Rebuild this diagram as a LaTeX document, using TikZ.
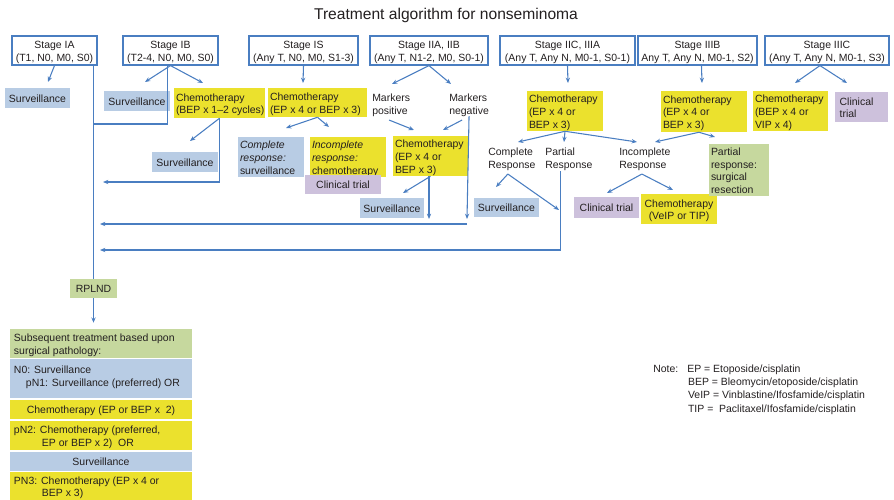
\documentclass[tikz,border=0pt]{standalone}
\usepackage{fontspec}
\setmainfont{Liberation Sans}
\usetikzlibrary{arrows.meta,calc}

\definecolor{lineblue}{RGB}{74,126,193}
\definecolor{boxblue}{RGB}{184,204,228}
\definecolor{boxyellow}{RGB}{235,225,45}
\definecolor{boxgreen}{RGB}{198,216,158}
\definecolor{boxpurple}{RGB}{205,193,220}
\definecolor{ink}{RGB}{35,31,32}

% box from corner (#3,#4) to corner (#5,#6), in pixel units;
% #7 is l or c (alignment of the lines), #8 the lines
\newcommand\cbox[8]{%
  \pgfmathsetmacro\cbw{(#5-#3-4)*0.75}%
  \pgfmathsetmacro\cbh{(#6-#4)*0.75}%
  \node[#2, minimum height=\cbh pt] (#1) at ({(#3+#5)/2},{(#4+#6)/2})
    {\raisebox{-1.4pt}[\height][\depth]{\makebox[\cbw pt][#7]{\begin{tabular}{@{}#7@{}}#8\end{tabular}}}};}

\begin{document}
\begin{tikzpicture}[x=0.75pt,y=-0.75pt,
  every node/.style={font=\fontsize{7.85}{9.6}\selectfont, text=ink},
  ln/.style={draw=lineblue, line width=0.8pt},
  arr/.style={ln, -{Stealth[length=4pt,width=3.2pt]}},
  stagebox/.style={draw=lineblue, line width=0.9pt, fill=white,
    inner xsep=1.5pt, inner ysep=0pt},
  cb/.style={inner xsep=1.5pt, inner ysep=0pt},
  bluebox/.style={cb, fill=boxblue},
  yellowbox/.style={cb, fill=boxyellow},
  greenbox/.style={cb, fill=boxgreen},
  purplebox/.style={cb, fill=boxpurple},
  plain/.style={inner sep=0.75pt, align=left, anchor=west}
]
\useasboundingbox (0,0) rectangle (894,500);

\node[font=\fontsize{11.7}{13}\selectfont] (title) at (446,15) {Treatment algorithm for nonseminoma};

% stages
\cbox{sIA}{stagebox}{12}{36}{97}{65}{c}{Stage IA\\(T1, N0, M0, S0)}
\cbox{sIB}{stagebox}{123}{36}{218}{65}{c}{Stage IB\\(T2-4, N0, M0, S0)}
\cbox{sIS}{stagebox}{249}{36}{358}{65}{c}{Stage IS\\(Any T, N0, M0, S1-3)}
\cbox{sIIA}{stagebox}{370}{36}{488}{65}{c}{Stage IIA, IIB\\(Any T, N1-2, M0, S0-1)}
\cbox{sIIC}{stagebox}{500}{36}{635}{65}{c}{Stage IIC, IIIA\\(Any T, Any N, M0-1, S0-1)}
\cbox{sIIIB}{stagebox}{638}{36}{757}{65}{c}{Stage IIIB\\Any T, Any N, M0-1, S2)}
\cbox{sIIIC}{stagebox}{765}{36}{889}{65}{c}{Stage IIIC\\(Any T, Any N, M0-1, S3)}

% stage IA / IB
\cbox{survA}{bluebox}{5}{88}{70}{108}{c}{Surveillance}
\cbox{survB}{bluebox}{104}{91}{170}{111}{c}{Surveillance}
\cbox{chemoB}{yellowbox}{174}{88}{265}{118}{l}{Chemotherapy\\(BEP x 1--2 cycles)}
\cbox{survBB}{bluebox}{152}{152}{218}{172}{c}{Surveillance}

% stage IS
\cbox{chemoS}{yellowbox}{268}{88}{367}{117}{l}{Chemotherapy\\(EP x 4 or BEP x 3)}
\cbox{compS}{bluebox}{238}{137}{304}{177}{l}{\textit{Complete}\\\textit{response:}\\surveillance}
\cbox{incS}{yellowbox}{310}{137}{386}{177}{l}{\textit{Incomplete}\\\textit{response:}\\chemotherapy}
\cbox{trialS}{purplebox}{305}{175}{381}{194}{c}{Clinical trial}

% stage IIA, IIB
\node[plain] (mpos) at (371,105.5) {Markers\\positive};
\node[plain] (mneg) at (448,105.5) {Markers\\negative};
\cbox{chemoII}{yellowbox}{393}{136}{468}{176}{l}{Chemotherapy\\(EP x 4 or\\BEP x 3)}
\cbox{survII}{bluebox}{360}{198}{424}{218}{c}{Surveillance}

% stage IIC, IIIA
\cbox{chemoC}{yellowbox}{527}{91}{603}{131}{l}{Chemotherapy\\(EP x 4 or\\BEP x 3)}
\node[plain] (comp) at (487,159.5) {Complete\\Response};
\node[plain] (part) at (544,159.5) {Partial\\Response};
\node[plain] (inc) at (618,159.5) {Incomplete\\Response};
\cbox{survC}{bluebox}{474}{198}{539}{217}{c}{Surveillance}
\cbox{trialC}{purplebox}{574}{197}{639}{218}{c}{Clinical trial}
\cbox{chemoV}{yellowbox}{641}{194}{717}{224}{c}{Chemotherapy\\(VeIP or TIP)}

% stage IIIB
\cbox{chemoIIIB}{yellowbox}{661}{91}{747}{132}{l}{Chemotherapy\\(EP x 4 or\\BEP x 3)}
\cbox{partial}{greenbox}{709}{144}{769}{196}{l}{Partial\\response:\\surgical\\resection}

% stage IIIC
\cbox{chemoIIIC}{yellowbox}{753}{91}{828}{131}{l}{Chemotherapy\\(BEP x 4 or\\VIP x 4)}
\cbox{trialIIIC}{purplebox}{835}{92}{888}{122}{l}{\hspace*{2pt}Clinical\\\hspace*{2pt}trial}

% surgery and what follows it
\cbox{rplnd}{greenbox}{70}{279}{117}{298}{c}{RPLND}
\cbox{hdr}{greenbox}{10}{329}{192}{358}{l}{\hspace*{1.5pt}Subsequent treatment based upon\\\hspace*{1.5pt}surgical pathology:}
\cbox{pnone}{bluebox}{10}{359}{192}{398}{l}{\hspace*{1.5pt}N0: Surveillance\\\hspace*{10.5pt}pN1: Surveillance (preferred) OR\\[4pt]}
\cbox{chtwo}{yellowbox}{10}{400}{192}{419}{c}{Chemotherapy (EP or BEP x\ \ 2)}
\cbox{pntwo}{yellowbox}{10}{421}{192}{450}{l}{\hspace*{1.5pt}pN2: Chemotherapy (preferred,\\\hspace*{22.5pt}EP or BEP x 2)\ \ OR}
\cbox{survN}{bluebox}{10}{452}{192}{471}{c}{Surveillance}
\cbox{pnthree}{yellowbox}{10}{472}{192}{500}{l}{\hspace*{1.5pt}PN3: Chemotherapy (EP x 4 or\\\hspace*{22.5pt}BEP x 3)}

% abbreviations
\node[plain, anchor=north west] (notelbl) at (652,364) {Note:};
\node[plain, anchor=north west, font=\fontsize{7.85}{9.8}\selectfont] (notetxt) at (686,364)
  {EP = Etoposide/cisplatin\\
   \hspace*{0.6pt}BEP = Bleomycin/etoposide/cisplatin\\
   \hspace*{0.6pt}VeIP = Vinblastine/Ifosfamide/cisplatin\\
   \hspace*{0.6pt}TIP =\ \ Paclitaxel/Ifosfamide/cisplatin};

% free arrow ends
\coordinate (eIA) at (48,82);
\coordinate (eIBa) at (145,82);
\coordinate (eIBb) at (203,83);
\coordinate (eBa) at (190,141);
\coordinate (eBb) at (103,182);
\coordinate (trunkIB) at (93.5,124);
\coordinate (eIS) at (303,83);
\coordinate (eSa) at (286,128);
\coordinate (eSb) at (329,127);
\coordinate (eIIa) at (392,84);
\coordinate (eIIb) at (451,84);
\coordinate (ePos) at (414,130);
\coordinate (eNeg) at (443,130);
\coordinate (eIIc) at (403,193);
\coordinate (eIId) at (429,219);
\coordinate (eNegDown) at (467,219);
\coordinate (rowA) at (467,224);
\coordinate (eRowA) at (100,224);
\coordinate (eIIC) at (568,83);
\coordinate (eCa) at (518,142);
\coordinate (eCb) at (564,142);
\coordinate (eCc) at (637,142);
\coordinate (eCompa) at (496,187);
\coordinate (eCompb) at (559,210);
\coordinate (eRowB) at (100,250);
\coordinate (eInca) at (607,193);
\coordinate (eIncb) at (673,190);
\coordinate (eIIIB) at (702,83);
\coordinate (eBBa) at (655,142);
\coordinate (eBBb) at (715,137);
\coordinate (eIIICa) at (795,83);
\coordinate (eIIICb) at (847,83);

% connectors
\draw[arr] (sIA.south) -- (eIA);
\draw[ln] (sIA.south -| rplnd.north) -- (rplnd.north);
\draw[arr, shorten >=4.5pt] (rplnd.south) -- (hdr.north -| rplnd.south);

\draw[arr] (sIB.south) -- (eIBa);
\draw[arr] (sIB.south) -- (eIBb);
\draw[ln] ($(sIB.south)+(-3,0)$) |- (trunkIB);
\draw[arr] (chemoB.south) -- (eBa);
\draw[arr] (chemoB.south) |- (eBb);

\draw[arr] (sIS.south) -- (eIS);
\draw[arr] (chemoS.south) -- (eSa);
\draw[arr] (chemoS.south) -- (eSb);

\draw[arr] (sIIA.south) -- (eIIa);
\draw[arr] (sIIA.south) -- (eIIb);
\draw[arr] ($(mpos.south)+(-2,2)$) -- (ePos);
\draw[arr] ($(mneg.south)+(-7,2)$) -- (eNeg);
\draw[arr] ($(mneg.south)+(0,-2)$) -- (eNegDown);
\draw[arr] (chemoII.south) -- (eIIc);
\draw[arr] ($(chemoII.south)+(-1.5,0)$) -- (eIId);
\draw[arr] (rowA) -- (eRowA);

\draw[arr] (sIIC.south) -- (eIIC);
\draw[arr] (chemoC.south) -- (eCa);
\draw[arr] (chemoC.south) -- (eCb);
\draw[arr] (chemoC.south) -- (eCc);
\draw[arr] ($(comp.south)+(-4,2)$) -- (eCompa);
\draw[arr] ($(comp.south)+(-4,2)$) -- (eCompb);
\draw[arr] ($(part.south)+(-8,-1)$) |- (eRowB);
\draw[arr] ($(inc.south)+(-3,2)$) -- (eInca);
\draw[arr] ($(inc.south)+(-3,2)$) -- (eIncb);

\draw[arr] ($(sIIIB.south)+(4,0)$) -- (eIIIB);
\draw[arr] ($(chemoIIIB.south)+(-5,0)$) -- (eBBa);
\draw[arr] ($(chemoIIIB.south)+(-5,0)$) -- (eBBb);

\draw[arr] ($(sIIIC.south)+(-7,0)$) -- (eIIICa);
\draw[arr] ($(sIIIC.south)+(-7,0)$) -- (eIIICb);
\end{tikzpicture}
\end{document}
